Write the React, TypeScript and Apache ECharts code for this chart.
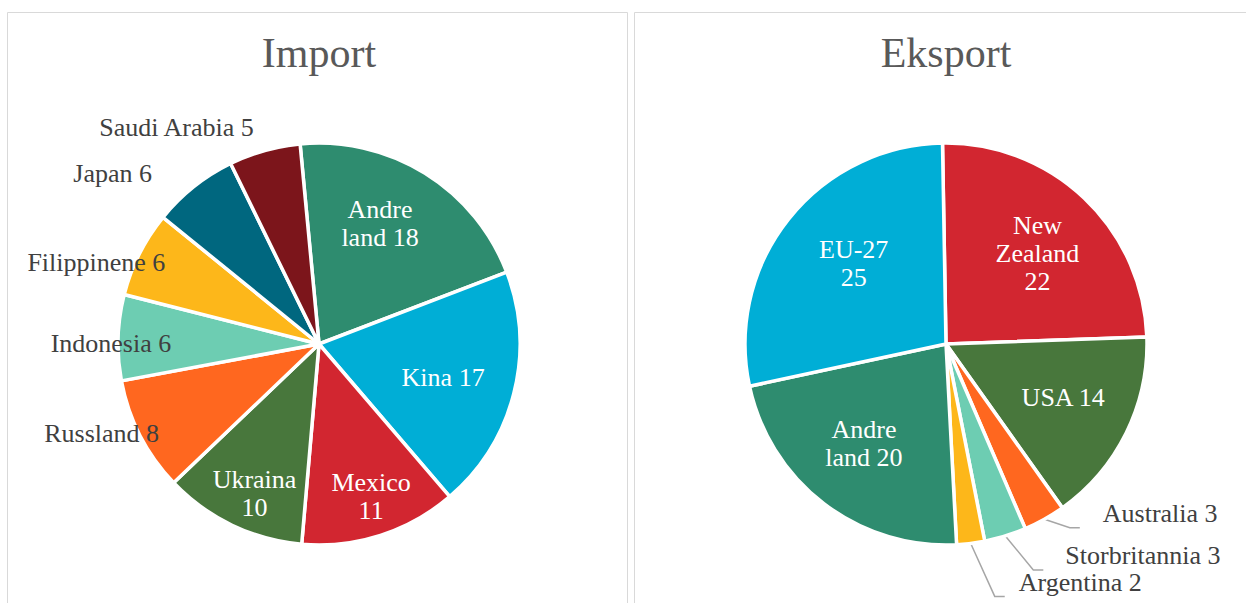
import { useEffect, useRef } from "react";
import * as echarts from "echarts";

// ---------- data ----------
const importNames = ["Andre land", "Kina", "Mexico", "Ukraina", "Russland", "Indonesia", "Filippinene", "Japan", "Saudi Arabia"];
const importValues = [18, 17, 11, 10, 8, 6, 6, 6, 5];

const exportNames = ["New Zealand", "USA", "Australia", "Storbritannia", "Argentina", "Andre land", "EU-27"];
const exportValues = [22, 14, 3, 3, 2, 20, 25];

const titles = ["Import", "Eksport"];

// ---------- styles ----------
const importColors = ["#2E8C6F", "#00AED6", "#D22630", "#48773C", "#FF671F", "#6DCDB2", "#FDB71A", "#00677F", "#7C151B"];
const exportColors = ["#D22630", "#48773C", "#FF671F", "#6DCDB2", "#FDB71A", "#2E8C6F", "#00AED6"];

// label placement (polar: angle shift from slice mid-angle in degrees, radius factor)
// wrap: 0 none, 1 break after first word, 2 break at every space
type LabelCfg = { inside: boolean; wrap: number; shift: number; k: number; line?: boolean; pl?: number };
const importLabels: LabelCfg[] = [
  { inside: true, wrap: 1, shift: -4.9, k: 0.67 },
  { inside: true, wrap: 0, shift: 1.0, k: 0.64 },
  { inside: true, wrap: 1, shift: -1.1, k: 0.8 },
  { inside: true, wrap: 1, shift: -2.3, k: 0.81 },
  { inside: false, wrap: 0, shift: 4.7, k: 1.17 },
  { inside: false, wrap: 0, shift: -1.6, k: 1.035 },
  { inside: false, wrap: 0, shift: -6.5, k: 1.18 },
  { inside: false, wrap: 0, shift: -12.0, k: 1.33 },
  { inside: false, wrap: 0, shift: -17.6, k: 1.29 },
];
const exportLabels: LabelCfg[] = [
  { inside: true, wrap: 2, shift: 1.8, k: 0.64 },
  { inside: true, wrap: 0, shift: -1.9, k: 0.64 },
  { inside: false, wrap: 0, shift: -13.4, k: 1.15, line: true, pl: 23 },
  { inside: false, wrap: 0, shift: -12.2, k: 1.21, line: true, pl: 22 },
  { inside: false, wrap: 0, shift: -9.9, k: 1.24, line: true, pl: 14 },
  { inside: true, wrap: 1, shift: 2.2, k: 0.64 },
  { inside: true, wrap: 1, shift: 2.7, k: 0.61 },
];

const R = 201;
const importCenter = [319, 344];
const exportCenter = [946, 344];
const importStart = -5.4; // degrees clockwise from 12 o'clock
const exportStart = -1;
const LINE_H = 28;

const FONT = "'Liberation Serif', 'Times New Roman', serif";

function midAngles(values: number[], start: number) {
  const total = values.reduce((a, b) => a + b, 0);
  let acc = 0;
  return values.map((v) => {
    const m = start + ((acc + v / 2) / total) * 360;
    acc += v;
    return m;
  });
}

function labelText(name: string, value: number, wrap: number) {
  const t = `${name} ${value}`;
  if (wrap === 1) return t.replace(" ", "\n");
  if (wrap === 2) return t.split(" ").join("\n");
  return t;
}

function makePie(
  names: string[],
  values: number[],
  colors: string[],
  labels: LabelCfg[],
  center: number[],
  start: number
) {
  const mids = midAngles(values, start);
  return {
    type: "pie",
    radius: R,
    center,
    startAngle: 90 - start,
    clockwise: true,
    avoidLabelOverlap: false,
    silent: true,
    itemStyle: { borderColor: "#FFFFFF", borderWidth: 3.5 },
    data: names.map((n, i) => {
      const L = labels[i];
      return {
        name: n,
        value: values[i],
        itemStyle: { color: colors[i] },
        label: {
          show: true,
          position: L.inside ? "inside" : "outside",
          // leader-lined labels get an empty second line so the line meets the box's lower part
          formatter: labelText(n, values[i], L.wrap) + (L.line ? "\n " : ""),
          color: L.inside ? "#FFFFFF" : "#404040",
          fontFamily: FONT,
          fontSize: 26,
          lineHeight: LINE_H,
          ...(L.line ? { padding: [0, 0, 0, L.pl || 0], backgroundColor: "transparent" } : {}),
        },
        labelLine: {
          show: !!L.line,
          length: 15,
          length2: 10,
          lineStyle: { color: "#A6A6A6", width: 1.5 },
        },
      };
    }),
    labelLayout: (params: any) => {
      const i = params.dataIndex;
      const L = labels[i];
      const a = ((mids[i] + L.shift) * Math.PI) / 180;
      const px = center[0] + L.k * R * Math.sin(a);
      const py = center[1] - L.k * R * Math.cos(a);
      if (L.line) {
        return { x: px - (L.pl || 0), y: py + LINE_H / 2, align: "left", verticalAlign: "middle" };
      }
      return { x: px, y: py, align: "center", verticalAlign: "middle" };
    },
  };
}

export default function App() {
  const ref = useRef<HTMLDivElement>(null);
  useEffect(() => {
    if (!ref.current) return;
    const chart = echarts.init(ref.current, undefined, { renderer: "svg" });
    const titleStyle = { fontFamily: FONT, fontSize: 42, fontWeight: "normal", color: "#595959", lineHeight: 44 };
    chart.setOption({
      animation: false,
      backgroundColor: "#FFFFFF",
      title: [
        { text: titles[0], left: importCenter[0], top: 31, textAlign: "center", padding: 0, textStyle: titleStyle },
        { text: titles[1], left: exportCenter[0], top: 31, textAlign: "center", padding: 0, textStyle: titleStyle },
      ],
      graphic: [
        {
          type: "rect",
          z: -1,
          silent: true,
          shape: { x: 7.5, y: 12.5, width: 620, height: 640 },
          style: { fill: "none", stroke: "#D9D9D9", lineWidth: 1 },
        },
        {
          type: "rect",
          z: -1,
          silent: true,
          shape: { x: 634.5, y: 12.5, width: 640, height: 640 },
          style: { fill: "none", stroke: "#D9D9D9", lineWidth: 1 },
        },
      ],
      series: [
        makePie(importNames, importValues, importColors, importLabels, importCenter, importStart),
        makePie(exportNames, exportValues, exportColors, exportLabels, exportCenter, exportStart),
      ],
    });
    return () => chart.dispose();
  }, []);
  return <div ref={ref} style={{ position: "fixed", left: 0, top: 0, width: 1246, height: 603 }} />;
}
